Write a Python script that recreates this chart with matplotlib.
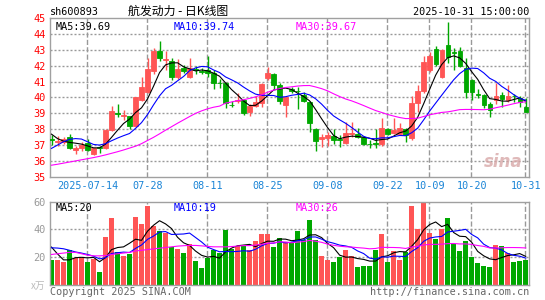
import matplotlib

matplotlib.use("Agg")
import matplotlib.pyplot as plt
import numpy as np
import pandas as pd

# daily bars 2025-07-04 .. 2025-10-31 (80 trading days)
opens = [37.35, 37.2, 37.2, 37.48, 36.68, 36.8, 37.14, 36.42, 36.85, 36.8,
         37.95, 39.0, 38.85, 38.8, 38.2, 39.85, 40.36, 41.65, 42.93, 42.35,
         42.3, 41.3, 41.87, 41.3, 41.8, 41.65, 41.72, 41.52, 40.92, 40.9,
         39.55, 39.75, 39.83, 39.1, 39.45, 39.65, 41.25, 41.5, 40.78, 39.55,
         40.53, 40.42, 40.15, 39.73, 38.0, 37.35, 37.45, 37.55, 37.37, 37.13,
         37.72, 37.7, 37.47, 37.07, 37.12, 37.05, 38.0, 37.77, 37.68, 38.0,
         37.45, 39.62, 40.4, 41.73, 43.05, 41.3, 43.3, 42.87, 42.93, 41.83,
         41.1, 40.21, 40.15, 39.56, 39.83, 40.15, 39.83, 40.1, 39.94, 39.41]
highs = [37.6, 37.55, 37.5, 37.72, 36.95, 37.2, 37.35, 36.8, 36.95, 38.0,
         39.45, 39.6, 39.2, 38.85, 40.05, 41.27, 42.47, 43.1, 43.56, 42.95,
         42.5, 42.43, 42.03, 42.5, 42.0, 41.85, 42.6, 41.7, 41.15, 40.95,
         39.75, 40.3, 39.9, 39.6, 40.1, 40.9, 41.9, 41.55, 40.9, 40.05,
         40.68, 40.68, 40.35, 39.75, 38.05, 37.72, 37.8, 38.0, 37.6, 38.45,
         38.45, 38.05, 37.5, 37.3, 38.0, 38.7, 38.05, 38.7, 38.36, 38.05,
         40.1, 40.8, 42.63, 42.88, 43.26, 43.05, 44.78, 43.1, 43.2, 42.46,
         41.15, 40.53, 40.2, 39.68, 40.88, 40.36, 40.78, 40.19, 40.1, 39.98]
lows = [37.0, 36.95, 37.05, 36.75, 36.4, 36.6, 36.6, 36.35, 36.5, 36.75,
        37.9, 38.75, 38.6, 37.98, 38.1, 39.75, 40.3, 41.5, 42.3, 41.75,
        41.1, 41.15, 41.55, 41.2, 41.5, 41.45, 41.3, 40.55, 40.6, 39.35,
        39.4, 39.65, 38.88, 38.85, 39.4, 39.4, 41.1, 40.5, 39.6, 38.78,
        40.3, 39.25, 39.7, 37.8, 36.63, 36.9, 36.95, 37.05, 36.85, 37.05,
        37.5, 37.45, 37.0, 36.82, 36.82, 36.95, 37.6, 37.7, 37.6, 37.16,
        37.3, 39.1, 40.3, 41.6, 42.0, 41.25, 42.2, 41.72, 41.95, 39.98,
        39.83, 39.94, 39.3, 38.78, 39.56, 39.41, 39.7, 39.68, 39.41, 39.05]
closes = [37.3, 37.25, 37.4, 36.82, 36.78, 37.0, 36.7, 36.78, 36.8, 37.95,
          39.15, 38.95, 38.9, 38.2, 40.0, 40.67, 41.77, 42.9, 42.5, 42.42,
          41.3, 41.8, 41.65, 41.85, 41.75, 41.6, 41.55, 40.9, 40.88, 39.63,
          39.5, 39.85, 39.0, 39.45, 39.7, 40.84, 41.55, 40.8, 39.75, 40.0,
          40.4, 40.38, 39.77, 38.36, 37.27, 37.47, 37.6, 37.28, 37.33, 37.78,
          37.77, 37.5, 37.05, 37.03, 37.08, 38.04, 37.66, 37.97, 38.08, 37.62,
          39.65, 40.4, 42.25, 42.63, 42.08, 43.0, 42.57, 42.82, 42.0, 40.36,
          40.36, 40.17, 39.52, 39.2, 40.1, 39.87, 40.1, 40.06, 39.68, 39.1]
# volume, 10k lots
volumes = [18.3, 18.3, 16.9, 25.4, 19.5, 19.5, 16.4, 18.8, 9.6, 34.4,
           48.2, 23.9, 21.2, 22.6, 49.0, 44.1, 57.0, 42.6, 38.8, 37.5,
           27.3, 25.6, 22.9, 29.3, 17.1, 12.0, 19.3, 25.4, 22.9, 39.7,
           25.6, 27.8, 27.8, 25.4, 31.5, 36.6, 36.6, 27.3, 33.6, 31.0,
           31.0, 39.0, 32.1, 46.8, 32.1, 20.7, 18.3, 16.4, 20.0, 24.9,
           21.2, 12.7, 13.4, 13.9, 24.9, 36.6, 16.4, 24.2, 18.3, 23.6,
           57.0, 40.2, 59.4, 37.5, 32.9, 40.2, 48.5, 29.8, 24.2, 31.5,
           20.0, 15.6, 13.9, 13.1, 28.5, 27.8, 22.9, 16.4, 17.6, 18.3]

# moving-average values at the left edge (history before the window)
ma5_head = [37.68, 37.4, 37.24, 37.16]
ma10_head = [36.78, 36.99, 37.2, 37.35, 37.4, 37.37, 37.2, 37.03, 36.99]
ma30_head = [35.72, 35.78, 35.85, 35.92, 35.99, 36.06, 36.13, 36.2, 36.28, 36.37,
             36.47, 36.57, 36.68, 36.8, 36.92, 37.08, 37.28, 37.48, 37.7, 37.93,
             38.15, 38.37, 38.58, 38.79, 38.99, 39.15, 39.28, 39.38, 39.45]
vol_ma5_head = [27.3, 22.4, 18.1, 18.1]
vol_ma10_head = [26.8, 26.6, 26.1, 25.0, 23.8, 23.0, 22.0, 20.8, 18.8]
vol_ma30_head = [22.0, 22.5, 23.0, 23.5, 23.5, 22.5, 21.5, 21.0, 21.0, 21.2,
                 22.0, 22.5, 23.0, 23.5, 24.5, 25.0, 25.5, 26.0, 26.5, 27.0,
                 27.5, 28.0, 28.3, 28.5, 28.5, 28.2, 27.8, 27.5, 27.5]

tick_index = [6, 16, 26, 36, 46, 56, 63, 70, 79]
tick_labels = ["2025-07-14", "07-28", "08-11", "08-25", "09-08",
               "09-22", "10-09", "10-20", "10-31"]

RED = "#ff5555"
GREEN = "#00a800"
BORDER = "#a0a0a0"
GRID = "#999999"
MONO = "DejaVu Sans Mono"
CJK = ["Noto Sans CJK SC", "DejaVu Sans"]
XLIM = (-0.25, 79.6)


def moving_average(values, n, head):
    ma = pd.Series(values, dtype=float).rolling(n).mean().to_numpy()
    ma[: n - 1] = head
    return ma


def draw_grid(ax, y_levels, y_range):
    # dotted horizontal lines, dashed vertical lines at the date ticks,
    # drawn as short plain segments so every dot lands on a pixel
    for y in y_levels:
        xs = np.arange(XLIM[0], XLIM[1], 4 / 6)
        ax.hlines([y] * len(xs), xs, xs + 1.5 / 6, colors=GRID, lw=1.0, zorder=1)
    for i in tick_index:
        ax.vlines(i - 0.15, y_range[0], y_range[1], colors=GRID, lw=1.0,
                  linestyles="--", zorder=1)
    for spine in ax.spines.values():
        spine.set_color(BORDER)
        spine.set_linewidth(1.0)
    ax.tick_params(length=0)


def main() -> None:
    W, H = 545, 300
    fig = plt.figure(figsize=(W / 100, H / 100), dpi=100)
    left, right = 50, 529.3
    ax = fig.add_axes([left / W, (H - 176.6) / H, (right - left) / W, (176.6 - 18.2) / H])
    axv = fig.add_axes([left / W, (H - 285) / H, (right - left) / W, (285 - 201.7) / H])

    x = np.arange(len(closes))
    o, h, l, c = map(np.asarray, (opens, highs, lows, closes))
    up = c >= o
    colors = np.where(up, RED, GREEN)

    # price panel
    draw_grid(ax, range(36, 45), (35, 45))
    ax.vlines(x, l, h, colors=colors, lw=1.0, zorder=2)
    ax.bar(x, np.abs(c - o), bottom=np.minimum(o, c), width=0.72,
           color=colors, edgecolor=colors, linewidth=0.6, zorder=3)
    ax.plot(x, moving_average(closes, 5, ma5_head), color="black", lw=0.8, zorder=4)
    ax.plot(x, moving_average(closes, 10, ma10_head), color="#0000ff", lw=0.8, zorder=4)
    ax.plot(x, moving_average(closes, 30, ma30_head), color="#ff00ff", lw=0.8, zorder=4)
    ax.set_xlim(*XLIM)
    ax.set_ylim(35, 45)
    ax.set_yticks(range(35, 46))
    ax.set_yticklabels([str(v) for v in range(35, 46)], color="#ff0000",
                       fontsize=7.4, family=MONO)
    ax.set_xticks(tick_index)
    ax.set_xticklabels(tick_labels, color="#1a84d6", fontsize=7.3, family=MONO)
    ax.tick_params(axis="x", pad=3.5)
    ax.tick_params(axis="y", pad=3)

    ax.text(6 / 479, 0.975, "MA5:39.69", transform=ax.transAxes, color="black",
            fontsize=7.3, family=MONO, va="top")
    ax.text(124 / 479, 0.975, "MA10:39.74", transform=ax.transAxes, color="#0000ff",
            fontsize=7.3, family=MONO, va="top")
    ax.text(245 / 479, 0.975, "MA30:39.67", transform=ax.transAxes, color="#ff00ff",
            fontsize=7.3, family=MONO, va="top")
    ax.text(0.985, 0.09, "sina", transform=ax.transAxes, color="#d8a8a8",
            fontsize=12, style="italic", weight="bold", ha="right", va="center",
            alpha=0.8, zorder=1)

    # volume panel
    draw_grid(axv, [20, 40], (0, 60))
    axv.bar(x, volumes, width=0.82, color=colors, linewidth=0, zorder=2)
    axv.plot(x, moving_average(volumes, 5, vol_ma5_head), color="black", lw=0.8, zorder=4)
    axv.plot(x, moving_average(volumes, 10, vol_ma10_head), color="#0000ff", lw=0.8, zorder=4)
    axv.plot(x, moving_average(volumes, 30, vol_ma30_head), color="#ff00ff", lw=0.8, zorder=4)
    axv.set_xlim(*XLIM)
    axv.set_ylim(0, 60)
    axv.set_xticks([])
    axv.set_yticks([20, 40, 60])
    axv.set_yticklabels(["20", "40", "60"], color="#999999", fontsize=7.4, family=MONO)
    axv.tick_params(axis="y", pad=3)
    axv.text(6 / 479, 0.985, "MA5:20", transform=axv.transAxes, color="black",
             fontsize=7.3, family=MONO, va="top")
    axv.text(124 / 479, 0.985, "MA10:19", transform=axv.transAxes, color="#0000ff",
             fontsize=7.3, family=MONO, va="top")
    axv.text(245 / 479, 0.985, "MA30:26", transform=axv.transAxes, color="#ff00ff",
             fontsize=7.3, family=MONO, va="top")

    # header / footer
    fig.text(50 / W, 1 - 12 / H, "sh600893", color="black", fontsize=7.3,
             family=MONO, va="center")
    fig.text(178 / W, 1 - 11 / H, "航发动力 - 日K线图", color="black", fontsize=8.6,
             family=CJK, ha="center", va="center")
    fig.text(529 / W, 1 - 12 / H, "2025-10-31 15:00:00", color="black", fontsize=7.3,
             family=MONO, ha="right", va="center")
    fig.text(45 / W, 1 - 286 / H, "x万", color="#bbbbbb", fontsize=7, family=CJK,
             ha="right", va="center")
    fig.text(50 / W, 1 - 292 / H, "Copyright 2025 SINA.COM", color="#666666",
             fontsize=7.3, family=MONO, va="center")
    fig.text(529 / W, 1 - 292 / H, "http://finance.sina.com.cn", color="#666666",
             fontsize=7.3, family=MONO, ha="right", va="center")

    fig.savefig("out.png", dpi=100, facecolor="white")
    plt.close(fig)


if __name__ == "__main__":
    main()
